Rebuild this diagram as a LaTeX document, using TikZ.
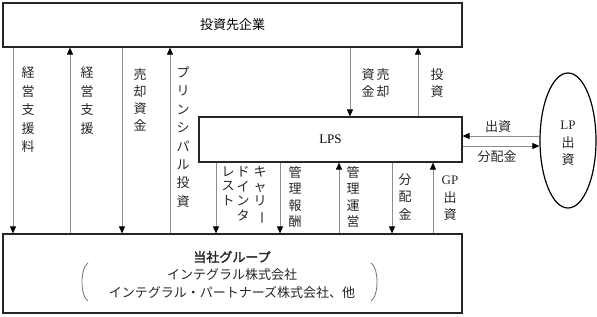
\documentclass[tikz,border=0pt]{standalone}
\usepackage{fontspec}
\setmainfont{Noto Sans CJK JP}[AutoFakeBold=2]
\newfontfamily\lat{Liberation Serif}
\usetikzlibrary{arrows.meta,shapes.geometric}
\begin{document}
\begin{tikzpicture}[x=1pt,y=-1pt,
  box/.style={draw=black!85, line width=1.2pt, inner sep=0pt, font=\fontsize{13}{16}\selectfont},
  arr/.style={draw=black!45, line width=0.8pt, -{Triangle[length=7pt,width=6pt,color=black]}},
  vl/.style={anchor=north, inner sep=0pt, align=center, text=black!85, font=\fontsize{13}{#1}\selectfont},
  hl/.style={inner sep=0pt, text=black!85, font=\fontsize{13}{16}\selectfont},
  paren/.style={draw=black!55, line width=0.8pt}]
\useasboundingbox (0,0) rectangle (597,316);
% boxes
\node[box, minimum width=459pt, minimum height=44pt] (top) at (232.5,25) {投資先企業};
\node[box, minimum width=263pt, minimum height=45pt] (lps) at (330.5,139.5) {\lat LPS};
\node[box, minimum width=459pt, minimum height=79pt] (bot) at (232.5,273.5) {};
\node[draw=black, line width=1.2pt, ellipse, inner sep=0pt, minimum width=56pt, minimum height=135pt] (lp) at (568,140.5) {};
% bottom box text
\node[hl, font=\fontsize{13}{16}\selectfont\bfseries] (grp) at (232,257) {当社グループ};
\node[hl] (co1) at (232,275) {インテグラル株式会社};
\node[hl] (co2) at (232,293) {インテグラル・パートナーズ株式会社、他};
\draw[paren] (88,263) .. controls (80,268) and (80,296) .. (88,301);
\draw[paren] (371,263) .. controls (379,268) and (379,296) .. (371,301);
% ellipse text
\node[vl=17.5] (lpt) at (568,121) {{\lat LP}\\出\\資};
% vertical arrows
\draw[arr] (top.south -| 13,0) -- (bot.north -| 13,0);
\draw[arr] (bot.north -| 70,0) -- (top.south -| 70,0);
\draw[arr] (top.south -| 122,0) -- (bot.north -| 122,0);
\draw[arr] (bot.north -| 170,0) -- (top.south -| 170,0);
\draw[arr] (lps.south -| 216,0) -- (bot.north -| 216,0);
\draw[arr] (lps.south -| 280,0) -- (bot.north -| 280,0);
\draw[arr] (bot.north -| 339,0) -- (lps.south -| 339,0);
\draw[arr] (lps.south -| 392,0) -- (bot.north -| 392,0);
\draw[arr] (bot.north -| 433,0) -- (lps.south -| 433,0);
\draw[arr] (top.south -| 350,0) -- (lps.north -| 350,0);
\draw[arr] (lps.north -| 418,0) -- (top.south -| 418,0);
% horizontal arrows
\draw[arr] (lp.west |- 0,136) -- (lps.east |- 0,136);
\draw[arr] (lps.east |- 0,146) -- (lp.west |- 0,146);
\node[hl] (h1) at (498,127) {出資};
\node[hl] (h2) at (497,157) {分配金};
% vertical labels
\node[vl=18.5] (l1) at (28,66.5) {経\\営\\支\\援\\料};
\node[vl=18.5] (l2) at (87,66.5) {経\\営\\支\\援};
\node[vl=17] (l3) at (140,68.5) {売\\却\\資\\金};
\node[vl=18.4] (l4) at (183,66.5) {プ\\リ\\ン\\シ\\パ\\ル\\投\\資};
\node[vl=17] (l5a) at (383,68.5) {売\\却};
\node[vl=17] (l5b) at (368,68.5) {資\\金};
\node[vl=17] (l6) at (437,68.5) {投\\資};
\node[vl=14.5] (c1) at (260,166.5) {キ\\ャ\\リ\\\rotatebox[origin=c]{-90}{ー}};
\node[vl=14.5] (c2) at (243,166.5) {ド\\イ\\ン\\タ};
\node[vl=14.5] (c3) at (228,166.5) {レ\\ス\\ト};
\node[vl=16.3] (m1) at (295,166.5) {管\\理\\報\\酬};
\node[vl=16.3] (m2) at (353,166.5) {管\\理\\運\\営};
\node[vl=17.5] (d1) at (405,173.5) {分\\配\\金};
\node[vl=17.5] (g1) at (450,175.7) {{\lat GP}\\出\\資};
\end{tikzpicture}
\end{document}
